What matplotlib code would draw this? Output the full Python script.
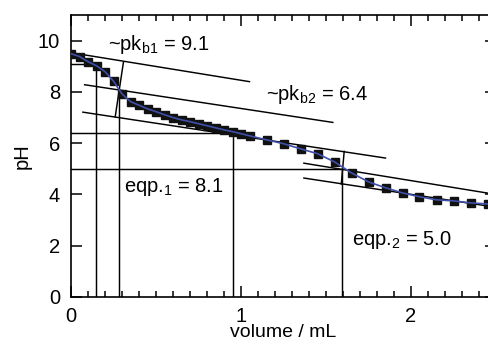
import matplotlib
matplotlib.use("Agg")
import matplotlib.pyplot as plt
from matplotlib.ticker import MultipleLocator

plt.rcParams['font.family'] = ['Liberation Sans', 'DejaVu Sans']
plt.rcParams['mathtext.fontset'] = 'custom'
plt.rcParams['mathtext.rm'] = 'Liberation Sans'
plt.rcParams['mathtext.it'] = 'Liberation Sans:italic'

# titration data: added volume (mL) and measured pH
volume = [0.00, 0.05, 0.10, 0.15, 0.20, 0.25, 0.30, 0.35, 0.40, 0.45,
          0.50, 0.55, 0.60, 0.65, 0.70, 0.75, 0.80, 0.85, 0.90, 0.95,
          1.00, 1.05, 1.15, 1.25, 1.35, 1.45, 1.55, 1.65, 1.75, 1.85,
          1.95, 2.05, 2.15, 2.25, 2.35, 2.45]
ph = [9.49, 9.38, 9.18, 9.02, 8.79, 8.42, 7.92, 7.62, 7.48, 7.34,
      7.23, 7.11, 7.00, 6.91, 6.84, 6.76, 6.68, 6.60, 6.52, 6.45,
      6.37, 6.29, 6.13, 5.98, 5.78, 5.59, 5.27, 4.84, 4.49, 4.26,
      4.06, 3.91, 3.79, 3.75, 3.67, 3.63]

# parallel tangent construction: (x0, y0, x1, y1)
tangents = [
    (0.00, 9.53, 1.05, 8.40),
    (0.08, 8.28, 1.54, 6.81),
    (0.07, 7.21, 1.85, 5.42),
    (1.37, 5.22, 2.50, 4.00),
    (1.37, 4.64, 2.50, 3.50),
]
# steep connecting segments through the equivalence points
connectors = [
    (0.260, 7.03, 0.308, 9.14),
    (1.590, 4.41, 1.607, 5.68),
]

# half-equivalence / equivalence read-offs: (volume, pH)
pkb1_vol, pkb1 = 0.147, 9.1
eqp1_vol, eqp1 = 0.28, 8.1
pkb2_vol, pkb2 = 0.95, 6.4
eqp2_vol, eqp2 = 1.594, 5.0

fig = plt.figure(figsize=(4.89, 3.45), dpi=100)
ax = fig.add_axes([71 / 489, 48 / 345, 425 / 489, 282 / 345])

lw = 1.05
for x0, y0, x1, y1 in tangents + connectors:
    ax.plot([x0, x1], [y0, y1], color='black', lw=lw, zorder=2)

# read-off lines
ax.plot([0, pkb1_vol, pkb1_vol], [pkb1, pkb1, 0], color='black', lw=lw, zorder=2)
ax.plot([eqp1_vol, eqp1_vol], [0, eqp1], color='black', lw=lw, zorder=2)
ax.plot([0, pkb2_vol, pkb2_vol], [pkb2, pkb2, 0], color='black', lw=lw, zorder=2)
ax.plot([0, eqp2_vol, eqp2_vol], [eqp2, eqp2, 0], color='black', lw=lw, zorder=2)

# measured points and trace
ax.plot(volume, ph, 's', color='#111111', ms=5.6, zorder=3)
ax.plot(volume, ph, '-', color='#3f4fa8', lw=1.2, zorder=4)

fs = 14.5
ax.text(0.218, 9.65, r'~pk$_\mathregular{b1}$ = 9.1', fontsize=fs, va='baseline')
ax.text(1.147, 7.70, r'~pk$_\mathregular{b2}$ = 6.4', fontsize=fs, va='baseline')
ax.text(0.312, 4.10, r'eqp.$_\mathregular{1}$ = 8.1', fontsize=fs, va='baseline')
ax.text(1.653, 2.03, r'eqp.$_\mathregular{2}$ = 5.0', fontsize=fs, va='baseline')

ax.set_xlim(0, 2.5)
ax.set_ylim(0, 11)
ax.xaxis.set_major_locator(MultipleLocator(1))
ax.xaxis.set_minor_locator(MultipleLocator(0.1))
ax.yaxis.set_major_locator(MultipleLocator(2))
ax.tick_params(which='both', direction='in', top=True, right=True, width=1.1)
ax.tick_params(which='major', length=8, labelsize=14.5)
ax.tick_params(axis='y', which='major', pad=8)
ax.tick_params(axis='x', which='major', pad=7)
ax.tick_params(which='minor', length=4)
for s in ax.spines.values():
    s.set_linewidth(1.2)

ax.set_xlabel('volume / mL', fontsize=14, labelpad=-1)
ax.set_ylabel('pH', fontsize=14.5, labelpad=4)

fig.savefig('out.png', dpi=100)
